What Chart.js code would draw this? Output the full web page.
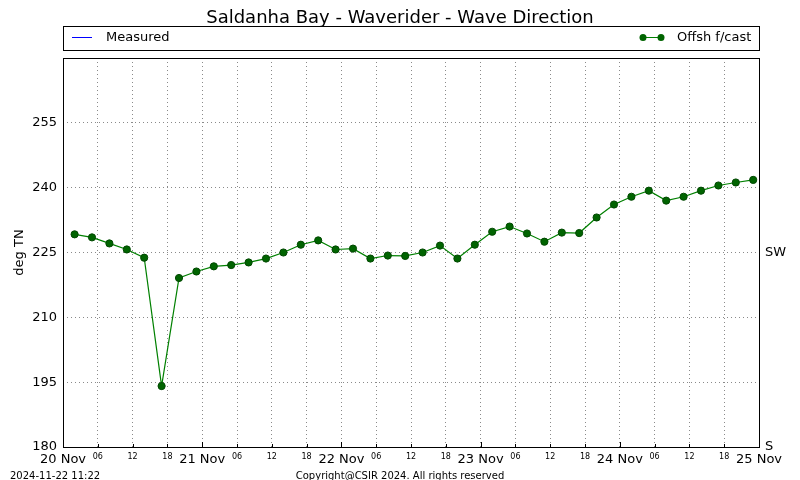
<!DOCTYPE html>
<html lang="en">
<head>
<meta charset="UTF-8">
<title>Saldanha Bay - Waverider - Wave Direction</title>
<script src="https://cdn.jsdelivr.net/npm/chart.js"></script>
<style>
  html, body { margin: 0; padding: 0; background: #fff; }
  #wrap { width: 800px; height: 480px; }
</style>
</head>
<body>
<div id="wrap"><canvas id="chartCanvas" width="800" height="480"></canvas></div>
<script>
// hours after 20 Nov 00:00
const hours = [2, 5, 8, 11, 14, 17, 20, 23, 26, 29, 32, 35, 38, 41, 44, 47, 50, 53, 56, 59,
               62, 65, 68, 71, 74, 77, 80, 83, 86, 89, 92, 95, 98, 101, 104, 107, 110, 113, 116, 119];
const forecast = [229.2, 228.5, 227.1, 225.7, 223.8, 194.1, 219.1, 220.6, 221.8, 222.1,
                  222.7, 223.6, 225.0, 226.8, 227.8, 225.7, 225.9, 223.6, 224.3, 224.2,
                  225.0, 226.6, 223.6, 226.8, 229.8, 231.0, 229.4, 227.5, 229.6, 229.5,
                  233.1, 236.1, 237.9, 239.3, 237.0, 237.9, 239.3, 240.5, 241.2, 241.8];
const measured = [];
const dayLabels = ['20 Nov', '21 Nov', '22 Nov', '23 Nov', '24 Nov', '25 Nov'];
const compass = { 180: 'S', 225: 'SW', 270: '' };

const FONT = "'DejaVu Sans', sans-serif";
const gridStyle = { color: '#8a8a8a', drawTicks: false };
const gridBorder = { display: false, dash: [1, 3] };

const extras = {
  id: 'extras',
  afterDraw(chart) {
    const c = chart.ctx, a = chart.chartArea;
    c.save();
    // frame
    c.strokeStyle = '#000'; c.lineWidth = 1;
    c.strokeRect(Math.round(a.left) + 0.5, Math.round(a.top) + 0.5,
                 Math.round(a.right - a.left), Math.round(a.bottom - a.top));
    // inward ticks on x axis
    const xs = chart.scales.x;
    for (let h = 0; h <= 120; h += 6) {
      const px = Math.round(xs.getPixelForValue(h)) + 0.5;
      const len = h % 24 === 0 ? 5 : 3;
      c.beginPath(); c.moveTo(px, a.bottom); c.lineTo(px, a.bottom - len); c.stroke();
    }
    // title
    c.fillStyle = '#000';
    c.font = '18px ' + FONT;
    c.textAlign = 'center'; c.textBaseline = 'middle';
    c.fillText('Saldanha Bay - Waverider - Wave Direction', 400, 18);
    // legend box
    c.strokeRect(63.5, 26.5, 696, 24);
    c.font = '13px ' + FONT;
    c.textAlign = 'left';
    const ds = chart.data.datasets;
    c.strokeStyle = ds[0].borderColor;
    c.beginPath(); c.moveTo(72, 37.5); c.lineTo(92, 37.5); c.stroke();
    c.fillText(ds[0].label, 106, 38);
    c.strokeStyle = ds[1].borderColor;
    c.beginPath(); c.moveTo(643, 37.5); c.lineTo(661, 37.5); c.stroke();
    c.fillStyle = ds[1].pointBackgroundColor;
    [643, 661].forEach(x => { c.beginPath(); c.arc(x, 37.5, 3.5, 0, Math.PI * 2); c.fill(); });
    c.fillStyle = '#000';
    c.fillText(ds[1].label, 677, 38);
    // footer
    c.font = '10px ' + FONT;
    c.fillText('2024-11-22 11:22', 10, 476);
    c.textAlign = 'center';
    c.fillText('Copyright@CSIR 2024. All rights reserved', 400, 476);
    c.restore();
  }
};

new Chart(document.getElementById('chartCanvas'), {
  type: 'line',
  data: {
    datasets: [
      { label: 'Measured', data: measured, borderColor: '#0000ff', borderWidth: 1, pointRadius: 0 },
      {
        label: 'Offsh f/cast',
        data: hours.map((h, i) => ({ x: h, y: forecast[i] })),
        borderColor: '#008000', borderWidth: 1.2,
        pointRadius: 3.6, pointBackgroundColor: '#006400', pointBorderColor: '#004800', pointBorderWidth: 1,
        tension: 0
      }
    ]
  },
  options: {
    responsive: false,
    animation: false,
    layout: { padding: { top: 58, left: 0, right: 0, bottom: 0 } },
    plugins: { legend: { display: false }, title: { display: false }, tooltip: { enabled: false } },
    scales: {
      x: {
        type: 'linear', min: 0, max: 120,
        afterFit: s => { s.height = 33; },
        grid: gridStyle,
        border: gridBorder,
        ticks: {
          stepSize: 6, maxRotation: 0, autoSkip: false, padding: 5, color: '#000',
          font: ctx => (ctx.tick && ctx.tick.value % 24 === 0) ? { family: FONT, size: 13 } : { family: FONT, size: 8 },
          callback: v => v % 24 === 0 ? dayLabels[v / 24] : String(v % 24).padStart(2, '0')
        }
      },
      y: {
        position: 'left', min: 180, max: 270,
        afterFit: s => { s.width = 63; },
        grid: gridStyle,
        border: gridBorder,
        title: { display: true, text: 'deg TN', color: '#000', font: { family: FONT, size: 13 }, padding: { top: 12, bottom: 0 } },
        ticks: { stepSize: 15, padding: 6, color: '#000', font: { family: FONT, size: 13 },
                 callback: v => v === 270 ? '' : v }
      },
      y2: {
        position: 'right', min: 180, max: 270,
        afterFit: s => { s.width = 41; },
        grid: { drawOnChartArea: false, drawTicks: false },
        border: { display: false },
        ticks: { stepSize: 45, padding: 6, color: '#000', font: { family: FONT, size: 13 },
                 callback: v => compass[v] !== undefined ? compass[v] : '' }
      }
    }
  },
  plugins: [extras]
});
</script>
</body>
</html>
